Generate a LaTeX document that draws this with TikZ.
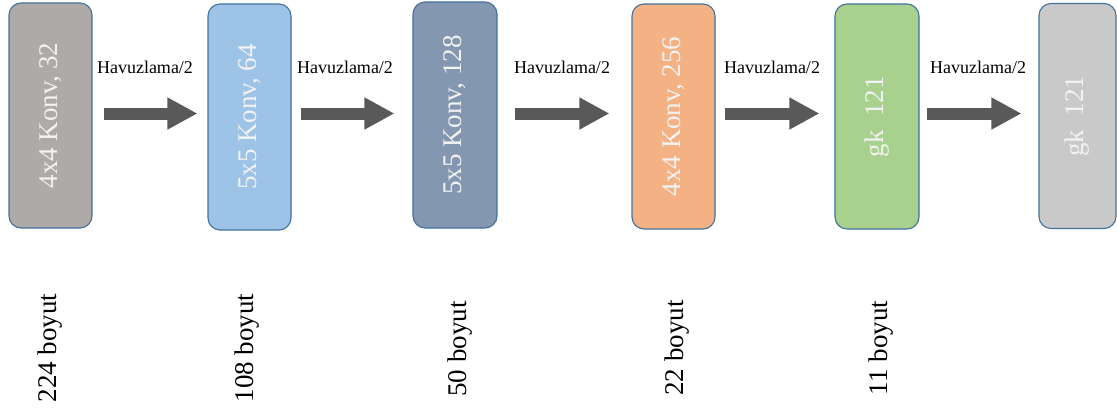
\documentclass[tikz,border=0pt]{standalone}
\usepackage{fontspec}
\setmainfont{Liberation Serif}
\usetikzlibrary{arrows.meta,calc}

\definecolor{edgeblue}{HTML}{41719C}
\definecolor{cgray}{HTML}{ADAAA8}
\definecolor{cblue}{HTML}{9DC3E6}
\definecolor{cslate}{HTML}{8497B0}
\definecolor{corange}{HTML}{F4B183}
\definecolor{cgreen}{HTML}{A9D18E}
\definecolor{clight}{HTML}{C9C9C9}
\definecolor{arrowgray}{HTML}{595959}
\definecolor{boxtext}{HTML}{F2F2F2}

\tikzset{
  layerbox/.style={draw=edgeblue, line width=1.1pt, rounded corners=12pt,
    minimum width=83pt, minimum height=225pt, inner sep=0pt,
    text=boxtext, rotate=90, font=\fontsize{27}{30}\selectfont},
  bigarrow/.style={draw=arrowgray, line width=12pt,
    -{Triangle[length=30pt,width=30pt]}},
  poollabel/.style={font=\fontsize{18}{20}\selectfont, inner sep=0pt},
  sizelabel/.style={rotate=90, font=\fontsize{27}{30}\selectfont, inner sep=0pt}
}

\begin{document}
\begin{tikzpicture}[x=1pt, y=-1pt]
\useasboundingbox (0,0) rectangle (1117,412);

% layer boxes (rotated, so width and height swap)
\node[layerbox, fill=cgray, minimum width=225pt, minimum height=83pt] (b1) at (50.5,115.5) {4x4 Konv, 32};
\node[layerbox, fill=cblue, minimum width=226pt, minimum height=83pt] (b2) at (249.5,117) {5x5 Konv, 64};
\node[layerbox, fill=cslate, minimum width=226pt, minimum height=84pt] (b3) at (455,115) {5x5 Konv, 128};
\node[layerbox, fill=corange, minimum width=225pt, minimum height=83pt] (b4) at (673.5,116.5) {4x4 Konv, 256};
\node[layerbox, fill=cgreen, minimum width=225pt, minimum height=84pt] (b5) at (877,116.5) {gk\ \ 121};
\node[layerbox, fill=clight, minimum width=225pt, minimum height=77pt] (b6) at (1077.5,116) {gk\ \ 121};

% common height of the arrows
\coordinate (lvl) at (0,113.5);

% pooling arrows
\draw[bigarrow] ($(b1.south |- lvl)+(11,0)$) -- ($(b2.north |- lvl)+(-10,0)$);
\draw[bigarrow] ($(b2.south |- lvl)+(9,0)$) -- ($(b3.north |- lvl)+(-18,0)$);
\draw[bigarrow] ($(b3.south |- lvl)+(17,0)$) -- ($(b4.north |- lvl)+(-22,0)$);
\draw[bigarrow] ($(b4.south |- lvl)+(9,0)$) -- ($(b5.north |- lvl)+(-15,0)$);
\draw[bigarrow] ($(b5.south |- lvl)+(7,0)$) -- ($(b6.north |- lvl)+(-17,0)$);

% pooling labels
\node[poollabel] (p1) at (145,67) {Havuzlama/2};
\node[poollabel] (p2) at (345,67) {Havuzlama/2};
\node[poollabel] (p3) at (562,67) {Havuzlama/2};
\node[poollabel] (p4) at (772,67) {Havuzlama/2};
\node[poollabel] (p5) at (978,67) {Havuzlama/2};

% output sizes
\node[sizelabel] (s1) at (50,348) {224 boyut};
\node[sizelabel] (s2) at (247,348) {108 boyut};
\node[sizelabel] (s3) at (460,349) {50 boyut};
\node[sizelabel] (s4) at (677,348) {22 boyut};
\node[sizelabel] (s5) at (881,348) {11 boyut};
\end{tikzpicture}
\end{document}
